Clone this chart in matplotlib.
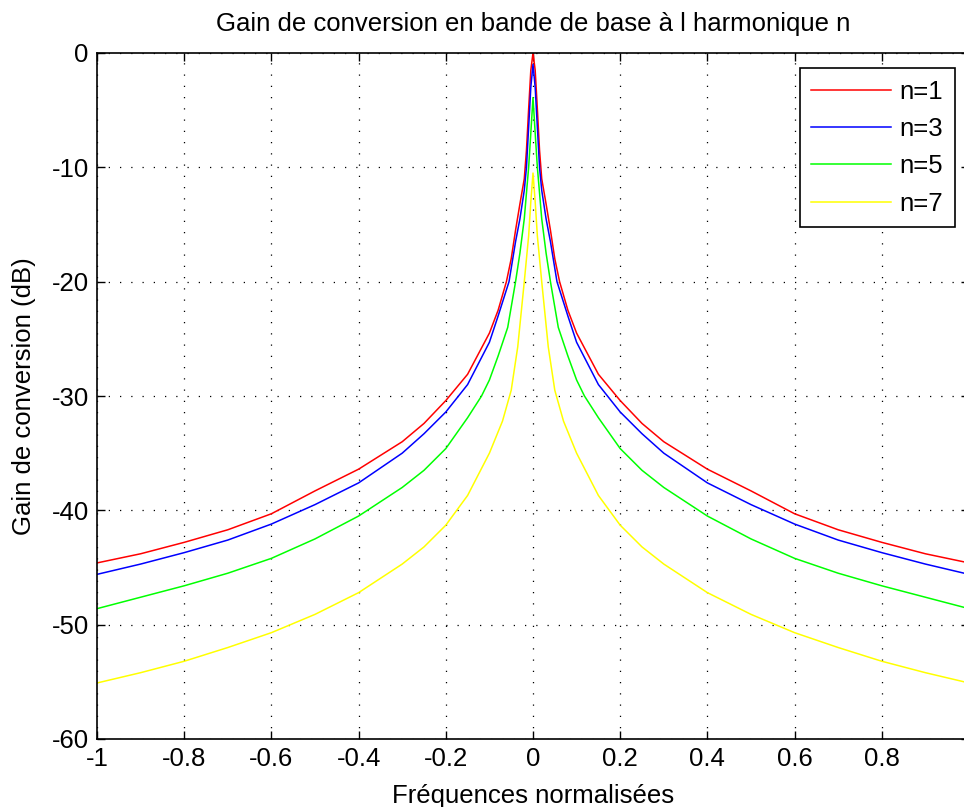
import numpy as np
import matplotlib
matplotlib.use("Agg")
import matplotlib.pyplot as plt

# Half-axis frequency samples (curves are symmetric about 0)
x_n1 = [0, 0.005, 0.01, 0.015, 0.02, 0.03, 0.04, 0.05, 0.061, 0.08, 0.1, 0.15, 0.2, 0.25, 0.3, 0.4, 0.5, 0.6, 0.7, 0.8, 0.9, 1.0]
g_n1 = [0, -1.5, -4.9, -8.5, -11, -13.2, -15.5, -18, -20, -22.5, -24.5, -28.1, -30.4, -32.4, -34.0, -36.4, -38.3, -40.3, -41.7, -42.8, -43.8, -44.6]

x_n3 = [0, 0.005, 0.01, 0.015, 0.02, 0.03, 0.04, 0.055, 0.08, 0.1, 0.15, 0.2, 0.25, 0.3, 0.4, 0.5, 0.6, 0.7, 0.8, 0.9, 1.0]
g_n3 = [-1, -3, -6.5, -10, -12, -14.5, -16.5, -20, -23, -25.3, -29, -31.4, -33.3, -35.0, -37.6, -39.5, -41.2, -42.6, -43.7, -44.7, -45.6]

x_n5 = [0, 0.005, 0.01, 0.02, 0.03, 0.04, 0.058, 0.08, 0.1, 0.118, 0.15, 0.2, 0.25, 0.3, 0.4, 0.5, 0.6, 0.7, 0.8, 0.9, 1.0]
g_n5 = [-3.9, -7, -10, -14.5, -17.5, -20, -24, -26.5, -28.6, -30, -31.9, -34.6, -36.5, -38.0, -40.5, -42.5, -44.2, -45.5, -46.6, -47.6, -48.6]

x_n7 = [0, 0.005, 0.01, 0.02, 0.035, 0.05, 0.07, 0.1, 0.15, 0.2, 0.25, 0.3, 0.4, 0.5, 0.6, 0.7, 0.8, 0.9, 1.0]
g_n7 = [-10.5, -13, -16, -20, -25.7, -29.5, -32.2, -35, -38.7, -41.3, -43.2, -44.7, -47.2, -49.1, -50.7, -52.0, -53.2, -54.2, -55.1]

labels = ["n=1", "n=3", "n=5", "n=7"]
colors = ["#ff0000", "#0000ff", "#00ff00", "#ffff00"]
x_ticks = [-1, -0.8, -0.6, -0.4, -0.2, 0, 0.2, 0.4, 0.6, 0.8, 1]
x_tick_labels = ["-1", "-0.8", "-0.6", "-0.4", "-0.2", "0", "0.2", "0.4", "0.6", "0.8", "1"]
y_ticks = [-60, -50, -40, -30, -20, -10, 0]
y_tick_labels = ["-60", "-50", "-40", "-30", "-20", "-10", "0"]


def mirror(xs, gs):
    xs = np.asarray(xs, float)
    gs = np.asarray(gs, float)
    xf = np.concatenate([-xs[:0:-1], xs])
    gf = np.concatenate([gs[:0:-1], gs])
    return xf, gf


plt.rcParams['font.family'] = ['Liberation Sans', 'DejaVu Sans']
plt.rcParams['axes.unicode_minus'] = False
fs = 18.5

fig = plt.figure(figsize=(9.64, 8.07), dpi=100)
W, H = 964, 807
left, right, top, bottom = 97, 969, 53, 739
ax = fig.add_axes([left / W, 1 - bottom / H, (right - left) / W, (bottom - top) / H])

series = [(x_n1, g_n1), (x_n3, g_n3), (x_n5, g_n5), (x_n7, g_n7)]
for (xs, gs), lab, c in zip(series, labels, colors):
    xf, gf = mirror(xs, gs)
    ax.plot(xf, gf, color=c, lw=1.1, label=lab)

ax.set_xlim(-1, 1)
ax.set_ylim(-60, 0)
ax.set_xticks(x_ticks)
ax.set_xticklabels(x_tick_labels)
ax.set_yticks(y_ticks)
ax.set_yticklabels(y_tick_labels)
ax.tick_params(direction='in', length=6, width=1, top=True, right=True,
               labelsize=fs, pad=6, colors='black')
ax.grid(True, color='black', linestyle=(0, (1, 8)), linewidth=0.9)
for s in ax.spines.values():
    s.set_linewidth(1.2)

ax.set_title("Gain de conversion en bande de base à l harmonique n", fontsize=fs, pad=16)
ax.set_xlabel("Fréquences normalisées", fontsize=fs, labelpad=9)
ax.set_ylabel("Gain de conversion (dB)", fontsize=fs, labelpad=11)

leg = ax.legend(loc='upper right', bbox_to_anchor=(955 / W, 1 - 68 / H),
                bbox_transform=fig.transFigure, borderaxespad=0,
                fontsize=fs, handlelength=3.1, labelspacing=0.52,
                fancybox=False, framealpha=1, edgecolor='black',
                handletextpad=0.35, borderpad=0.45)
leg.get_frame().set_linewidth(1.2)

fig.savefig("out.png", dpi=100)
